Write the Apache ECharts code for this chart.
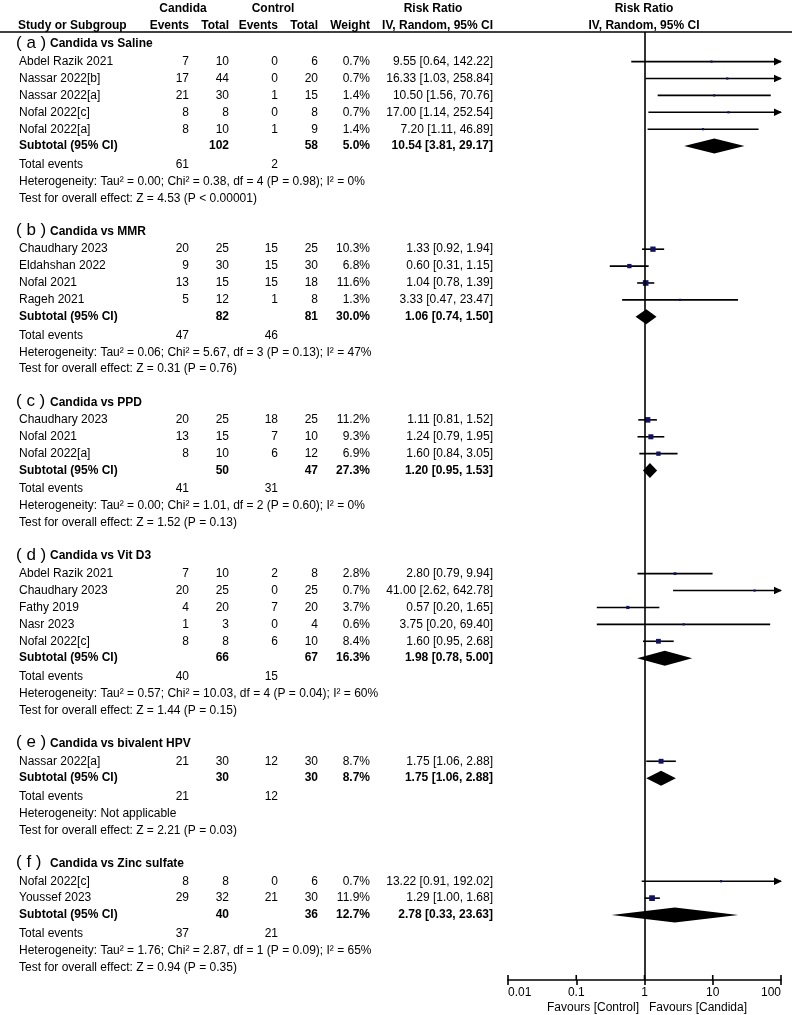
<!DOCTYPE html>
<html><head><meta charset="utf-8">
<script src="https://cdn.jsdelivr.net/npm/echarts@6/dist/echarts.min.js"></script>
<style>html,body{margin:0;padding:0;background:#fff}#c{width:799px;height:1015px}</style>
</head><body><div id="c"></div>
<script>
// ---------------- DATA ----------------
const groupLetters = ['a','b','c','d','e','f'];
const groupNames = ['Candida vs Saline','Candida vs MMR','Candida vs PPD','Candida vs Vit D3','Candida vs bivalent HPV','Candida vs Zinc sulfate'];
const studyGroup = [0,0,0,0,0,1,1,1,1,2,2,2,3,3,3,3,3,4,5,5];
const studyNames = ['Abdel Razik 2021','Nassar 2022[b]','Nassar 2022[a]','Nofal 2022[c]','Nofal 2022[a]',
  'Chaudhary 2023','Eldahshan 2022','Nofal 2021','Rageh 2021',
  'Chaudhary 2023','Nofal 2021','Nofal 2022[a]',
  'Abdel Razik 2021','Chaudhary 2023','Fathy 2019','Nasr 2023','Nofal 2022[c]',
  'Nassar 2022[a]',
  'Nofal 2022[c]','Youssef 2023'];
const candidaEvents = [7,17,21,8,8, 20,9,13,5, 20,13,8, 7,20,4,1,8, 21, 8,29];
const candidaTotal  = [10,44,30,8,10, 25,30,15,12, 25,15,10, 10,25,20,3,8, 30, 8,32];
const controlEvents = [0,0,1,0,1, 15,15,15,1, 18,7,6, 2,0,7,0,6, 12, 0,21];
const controlTotal  = [6,20,15,8,9, 25,30,18,8, 25,10,12, 8,25,20,4,10, 30, 6,30];
const studyWeight = [0.7,0.7,1.4,0.7,1.4, 10.3,6.8,11.6,1.3, 11.2,9.3,6.9, 2.8,0.7,3.7,0.6,8.4, 8.7, 0.7,11.9];
const studyRR   = [9.55,16.33,10.50,17.00,7.20, 1.33,0.60,1.04,3.33, 1.11,1.24,1.60, 2.80,41.00,0.57,3.75,1.60, 1.75, 13.22,1.29];
const studyLow  = [0.64,1.03,1.56,1.14,1.11, 0.92,0.31,0.78,0.47, 0.81,0.79,0.84, 0.79,2.62,0.20,0.20,0.95, 1.06, 0.91,1.00];
const studyHigh = [142.22,258.84,70.76,252.54,46.89, 1.94,1.15,1.39,23.47, 1.52,1.95,3.05, 9.94,642.78,1.65,69.40,2.68, 2.88, 192.02,1.68];
const subCandidaTotal = [102,82,50,66,30,40];
const subControlTotal = [58,81,47,67,30,36];
const subWeight = [5.0,30.0,27.3,16.3,8.7,12.7];
const subRR   = [10.54,1.06,1.20,1.98,1.75,2.78];
const subLow  = [3.81,0.74,0.95,0.78,1.06,0.33];
const subHigh = [29.17,1.50,1.53,5.00,2.88,23.63];
const totalCandidaEvents = [61,47,41,40,21,37];
const totalControlEvents = [2,46,31,15,12,21];
const heterogeneity = [
  'Heterogeneity: Tau\u00b2 = 0.00; Chi\u00b2 = 0.38, df = 4 (P = 0.98); I\u00b2 = 0%',
  'Heterogeneity: Tau\u00b2 = 0.06; Chi\u00b2 = 5.67, df = 3 (P = 0.13); I\u00b2 = 47%',
  'Heterogeneity: Tau\u00b2 = 0.00; Chi\u00b2 = 1.01, df = 2 (P = 0.60); I\u00b2 = 0%',
  'Heterogeneity: Tau\u00b2 = 0.57; Chi\u00b2 = 10.03, df = 4 (P = 0.04); I\u00b2 = 60%',
  'Heterogeneity: Not applicable',
  'Heterogeneity: Tau\u00b2 = 1.76; Chi\u00b2 = 2.87, df = 1 (P = 0.09); I\u00b2 = 65%'];
const overallEffect = [
  'Test for overall effect: Z = 4.53 (P < 0.00001)',
  'Test for overall effect: Z = 0.31 (P = 0.76)',
  'Test for overall effect: Z = 1.52 (P = 0.13)',
  'Test for overall effect: Z = 1.44 (P = 0.15)',
  'Test for overall effect: Z = 2.21 (P = 0.03)',
  'Test for overall effect: Z = 0.94 (P = 0.35)'];
const axisTicks = [0.01, 0.1, 1, 10, 100];
const favoursLabels = ['Favours [Control]', 'Favours [Candida]'];

// ---------------- LAYOUT ----------------
const FONT = '"Liberation Sans", Arial, Helvetica, sans-serif';
const W = 799, H = 1015;
const GRID_TOP = 32, GRID_BOTTOM = 35;
const ROW = 16.9;            // px per row unit
const FIRST_ROW_PX = 43;     // pixel of first section header
const yMin = -(FIRST_ROW_PX - GRID_TOP) / ROW;
const yMax = yMin + (H - GRID_TOP - GRID_BOTTOM) / ROW;
const COL = {name: 19, header: 16, headerText: 50, cEv: 189, cTot: 229, kEv: 278, kTot: 318, wt: 370, ci: 493};

const rows = [];
(function buildRows(){
  let y = 0;
  for (let g = 0; g < groupNames.length; g++) {
    rows.push({type: 'header', g, y}); y += 1.1;
    for (let i = 0; i < studyNames.length; i++) {
      if (studyGroup[i] === g) { rows.push({type: 'study', i, y}); y += 1; }
    }
    rows.push({type: 'subtotal', g, y}); y += 1.1;
    rows.push({type: 'total', g, y}); y += 1;
    rows.push({type: 'het', g, y}); y += 1;
    rows.push({type: 'test', g, y}); y += 1.9;
  }
})();

const f2 = v => v.toFixed(2);
const ciText = (r, l, h) => f2(r) + ' [' + f2(l) + ', ' + f2(h) + ']';

function txt(x, y, text, align, bold, size) {
  return {type: 'text', x, y, style: {text, fill: '#000', align: align || 'left', verticalAlign: 'middle',
    font: (bold ? 'bold ' : '') + (size || 12) + 'px ' + FONT}};
}

function renderRow(params, api) {
  const r = rows[params.dataIndex];
  const py = api.coord([0, r.y])[1];
  const X = k => api.coord([COL[k], r.y])[0];
  const els = [];
  if (r.type === 'header') {
    els.push(txt(X('header'), py, '( ' + groupLetters[r.g] + ' )', 'left', false, 17));
    els.push(txt(X('headerText'), py + 1, groupNames[r.g], 'left', true));
  } else if (r.type === 'study') {
    const i = r.i;
    els.push(txt(X('name'), py, studyNames[i]));
    els.push(txt(X('cEv'), py, String(candidaEvents[i]), 'right'));
    els.push(txt(X('cTot'), py, String(candidaTotal[i]), 'right'));
    els.push(txt(X('kEv'), py, String(controlEvents[i]), 'right'));
    els.push(txt(X('kTot'), py, String(controlTotal[i]), 'right'));
    els.push(txt(X('wt'), py, studyWeight[i].toFixed(1) + '%', 'right'));
    els.push(txt(X('ci'), py, ciText(studyRR[i], studyLow[i], studyHigh[i]), 'right'));
  } else if (r.type === 'subtotal') {
    const g = r.g;
    els.push(txt(X('name'), py, 'Subtotal (95% CI)', 'left', true));
    els.push(txt(X('cTot'), py, String(subCandidaTotal[g]), 'right', true));
    els.push(txt(X('kTot'), py, String(subControlTotal[g]), 'right', true));
    els.push(txt(X('wt'), py, subWeight[g].toFixed(1) + '%', 'right', true));
    els.push(txt(X('ci'), py, ciText(subRR[g], subLow[g], subHigh[g]), 'right', true));
  } else if (r.type === 'total') {
    els.push(txt(X('name'), py, 'Total events'));
    els.push(txt(X('cEv'), py, String(totalCandidaEvents[r.g]), 'right'));
    els.push(txt(X('kEv'), py, String(totalControlEvents[r.g]), 'right'));
  } else if (r.type === 'het') {
    els.push(txt(X('name'), py, heterogeneity[r.g]));
  } else if (r.type === 'test') {
    els.push(txt(X('name'), py, overallEffect[r.g]));
  }
  return {type: 'group', children: els};
}

const xLo = axisTicks[0], xHi = axisTicks[axisTicks.length - 1];

function renderStudy(params, api) {
  const rr = api.value(0), lo = api.value(1), hi = api.value(2), y = api.value(3), w = api.value(4);
  const a = api.coord([Math.max(lo, xLo), y]);
  const b = api.coord([Math.min(hi, xHi), y]);
  const c = api.coord([rr, y]);
  const s = Math.max(2.2, 1.65 * Math.sqrt(w));
  const ch = [
    {type: 'line', shape: {x1: a[0], y1: a[1], x2: b[0], y2: b[1]}, style: {stroke: '#000', lineWidth: 1.6}},
    {type: 'rect', shape: {x: c[0] - s / 2, y: c[1] - s / 2, width: s, height: s}, style: {fill: '#12125e'}}
  ];
  if (hi > xHi) ch.push({type: 'polygon', shape: {points: [[b[0] + 1, b[1]], [b[0] - 7, b[1] - 3.8], [b[0] - 7, b[1] + 3.8]]}, style: {fill: '#000'}});
  if (lo < xLo) ch.push({type: 'polygon', shape: {points: [[a[0] - 1, a[1]], [a[0] + 7, a[1] - 3.8], [a[0] + 7, a[1] + 3.8]]}, style: {fill: '#000'}});
  return {type: 'group', children: ch};
}

function renderDiamond(params, api) {
  const rr = api.value(0), lo = api.value(1), hi = api.value(2), y = api.value(3);
  const a = api.coord([lo, y]), b = api.coord([hi, y]), c = api.coord([rr, y]);
  const hh = 7.5;
  return {type: 'polygon', shape: {points: [[a[0], a[1]], [c[0], c[1] - hh], [b[0], b[1]], [c[0], c[1] + hh]]}, style: {fill: '#000'}};
}

// upward half of the axis ticks (the axis draws the downward half)
function renderTickUp(params, api) {
  const p = api.coord([api.value(0), yMax]);
  return {type: 'line', shape: {x1: p[0], y1: p[1], x2: p[0], y2: p[1] - 5}, style: {stroke: '#000', lineWidth: 1.6}};
}

const studyRowY = [], subRowY = [];
rows.forEach(r => { if (r.type === 'study') studyRowY[r.i] = r.y; if (r.type === 'subtotal') subRowY[r.g] = r.y; });

const studyData = studyNames.map((n, i) => [studyRR[i], studyLow[i], studyHigh[i], studyRowY[i], studyWeight[i]]);
const subData = groupNames.map((n, g) => [subRR[g], subLow[g], subHigh[g], subRowY[g]]);

const plotLeft = 508, plotRight = 781;

const hdr = (x, y, text, align) => ({type: 'text', x, y, style: {text, fill: '#000', align, verticalAlign: 'middle', font: 'bold 12px ' + FONT}});

const chart = echarts.init(document.getElementById('c'), null, {renderer: 'canvas'});
chart.setOption({
  animation: false,
  backgroundColor: '#fff',
  grid: [
    {left: plotLeft, right: W - plotRight, top: GRID_TOP, bottom: GRID_BOTTOM},
    {left: 0, right: 0, top: GRID_TOP, bottom: GRID_BOTTOM}
  ],
  xAxis: [
    {type: 'log', logBase: 10, gridIndex: 0, min: xLo, max: xHi, position: 'bottom',
      axisLine: {show: true, onZero: false, lineStyle: {color: '#000', width: 1.6}},
      axisTick: {show: true, inside: false, length: 5, lineStyle: {color: '#000', width: 1.6}},
      splitLine: {show: false},
      axisLabel: {show: true, color: '#000', fontSize: 12, fontFamily: FONT, margin: 7,
        alignMinLabel: 'left', alignMaxLabel: 'right',
        formatter: v => String(axisTicks.reduce((p, t) => Math.abs(Math.log10(t) - Math.log10(v)) < 1e-6 ? t : p, v))}},
    {type: 'value', gridIndex: 1, min: 0, max: W, show: false, axisLine: {onZero: false}}
  ],
  yAxis: [
    {type: 'value', gridIndex: 0, inverse: true, min: yMin, max: yMax, show: false, axisLine: {onZero: false}},
    {type: 'value', gridIndex: 1, inverse: true, min: yMin, max: yMax, show: false, axisLine: {onZero: false}}
  ],
  series: [
    {type: 'custom', name: 'table', xAxisIndex: 1, yAxisIndex: 1, renderItem: renderRow, clip: false,
      data: rows.map(r => [0, r.y]), encode: {x: 0, y: 1}, silent: true, z: 5},
    {type: 'custom', name: 'studies', xAxisIndex: 0, yAxisIndex: 0, renderItem: renderStudy, clip: false,
      data: studyData, encode: {x: 0, y: 3}, silent: true, z: 4,
      markLine: {symbol: 'none', silent: true, label: {show: false}, animation: false,
        lineStyle: {color: '#000', width: 1.6, type: 'solid'}, data: [{xAxis: 1}]}},
    {type: 'custom', name: 'subtotals', xAxisIndex: 0, yAxisIndex: 0, renderItem: renderDiamond, clip: false,
      data: subData, encode: {x: 0, y: 3}, silent: true, z: 4},
    {type: 'custom', name: 'ticksUp', xAxisIndex: 0, yAxisIndex: 0, renderItem: renderTickUp, clip: false,
      data: axisTicks.map(t => [t]), encode: {x: 0}, silent: true, z: 4}
  ],
  graphic: [
    hdr(183, 9, 'Candida', 'center'),
    hdr(273, 9, 'Control', 'center'),
    hdr(433, 9, 'Risk Ratio', 'center'),
    hdr(644, 9, 'Risk Ratio', 'center'),
    hdr(18, 26, 'Study or Subgroup', 'left'),
    hdr(COL.cEv, 26, 'Events', 'right'),
    hdr(COL.cTot, 26, 'Total', 'right'),
    hdr(COL.kEv, 26, 'Events', 'right'),
    hdr(COL.kTot, 26, 'Total', 'right'),
    hdr(COL.wt, 26, 'Weight', 'right'),
    hdr(COL.ci, 26, 'IV, Random, 95% CI', 'right'),
    hdr(644, 26, 'IV, Random, 95% CI', 'center'),
    {type: 'line', shape: {x1: 0, y1: GRID_TOP, x2: 792, y2: GRID_TOP}, style: {stroke: '#000', lineWidth: 1.6}},
    {type: 'text', x: 639, y: 1008, style: {text: favoursLabels[0], fill: '#000', align: 'right', verticalAlign: 'middle', font: '12px ' + FONT}},
    {type: 'text', x: 649, y: 1008, style: {text: favoursLabels[1], fill: '#000', align: 'left', verticalAlign: 'middle', font: '12px ' + FONT}}
  ]
});
</script>
</body></html>
